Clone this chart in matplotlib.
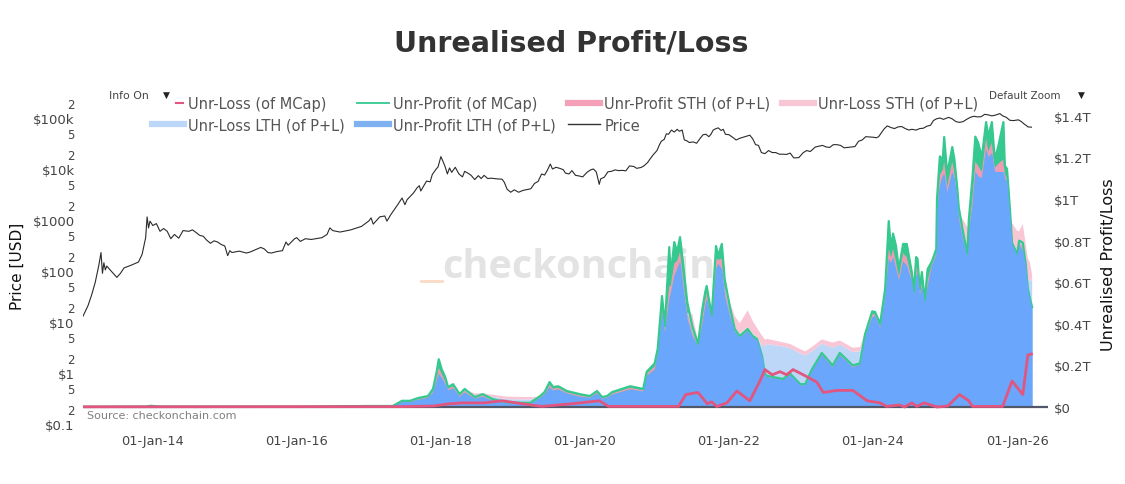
import matplotlib
matplotlib.use('Agg')
import matplotlib.pyplot as plt
import matplotlib.dates as mdates
from matplotlib.lines import Line2D
from matplotlib.ticker import FixedLocator, FixedFormatter
from datetime import datetime, timedelta

# values, times as decimal years
price_years = [2013.03, 2013.1, 2013.15, 2013.2, 2013.25, 2013.28, 2013.3, 2013.32, 2013.34, 2013.36, 2013.42, 2013.5, 2013.55, 2013.6, 2013.7, 2013.8, 2013.85, 2013.9, 2013.92,
               2013.94, 2013.96, 2014.0, 2014.05, 2014.1, 2014.15, 2014.2, 2014.25, 2014.3, 2014.36, 2014.42, 2014.5, 2014.55, 2014.6, 2014.65, 2014.7, 2014.75, 2014.8, 2014.85, 2014.9, 2014.95, 2015.0, 2015.04, 2015.07, 2015.1,
               2015.2, 2015.3, 2015.35, 2015.45, 2015.5, 2015.55, 2015.6, 2015.65, 2015.72, 2015.8, 2015.85, 2015.88, 2015.97, 2016.0, 2016.05, 2016.12, 2016.2, 2016.35, 2016.42, 2016.46, 2016.5, 2016.6,
               2016.75, 2016.9, 2017.0, 2017.03, 2017.06, 2017.15, 2017.22, 2017.25, 2017.3, 2017.4, 2017.46, 2017.5, 2017.53, 2017.62, 2017.67, 2017.7, 2017.72, 2017.8, 2017.85, 2017.88, 2017.93,
               2017.96, 2018.0, 2018.03, 2018.06, 2018.09, 2018.12, 2018.15, 2018.2, 2018.25, 2018.3, 2018.33, 2018.38, 2018.42, 2018.47, 2018.52, 2018.56, 2018.6, 2018.65, 2018.7, 2018.78, 2018.85,
               2018.88, 2018.92, 2018.97, 2019.02, 2019.08, 2019.14, 2019.2, 2019.25, 2019.3, 2019.35, 2019.4, 2019.44, 2019.48, 2019.52, 2019.55, 2019.6, 2019.65, 2019.7, 2019.73, 2019.78, 2019.82, 2019.87, 2019.92, 2019.97, 2020.03, 2020.08, 2020.12,
               2020.16, 2020.2, 2020.22, 2020.27, 2020.32, 2020.37, 2020.42, 2020.47, 2020.52, 2020.57, 2020.62, 2020.68, 2020.72, 2020.78, 2020.82, 2020.87, 2020.91, 2020.95, 2021.0, 2021.03, 2021.06, 2021.1, 2021.13, 2021.16, 2021.2, 2021.24, 2021.28, 2021.31, 2021.35, 2021.38,
               2021.41, 2021.45, 2021.5, 2021.55, 2021.6, 2021.64, 2021.68, 2021.72, 2021.75, 2021.78, 2021.82, 2021.85, 2021.89, 2021.92, 2021.95, 2022.0, 2022.05, 2022.1, 2022.15, 2022.2, 2022.25, 2022.29, 2022.33, 2022.37, 2022.41, 2022.45, 2022.5, 2022.55, 2022.6, 2022.65, 2022.7,
               2022.75, 2022.8, 2022.85, 2022.9, 2022.97, 2023.03, 2023.08, 2023.13, 2023.2, 2023.25, 2023.3, 2023.35, 2023.4, 2023.45, 2023.5, 2023.55, 2023.6, 2023.65, 2023.7, 2023.75, 2023.8, 2023.85, 2023.9, 2023.95, 2024.0, 2024.05, 2024.08, 2024.12,
               2024.16, 2024.2, 2024.25, 2024.3, 2024.35, 2024.4, 2024.45, 2024.5, 2024.54, 2024.6, 2024.65, 2024.7, 2024.75, 2024.8, 2024.84, 2024.88, 2024.93, 2024.98, 2025.05, 2025.1, 2025.15, 2025.2, 2025.25, 2025.3, 2025.35, 2025.4, 2025.45,
               2025.5, 2025.55, 2025.6, 2025.65, 2025.7, 2025.76, 2025.8, 2025.85, 2025.9, 2025.95, 2026.02, 2026.06, 2026.1, 2026.13, 2026.15, 2026.2]
price = [13, 21, 34, 60, 130, 230, 90, 145, 105, 125, 100, 75, 90, 115, 130, 150, 210, 450, 1150,
         700, 950, 780, 850, 600, 680, 600, 430, 520, 440, 620, 600, 640, 570, 500, 480, 400, 350, 390, 370, 330, 310, 200, 250, 230,
         245, 225, 235, 270, 290, 270, 230, 225, 240, 250, 370, 320, 430, 450, 380, 430, 415, 450, 520, 700, 620, 580,
         640, 750, 960, 1100, 830, 1150, 1200, 950, 1250, 2000, 2700, 2000, 2500, 3400, 4300, 4700, 3700, 5800, 5600, 7800, 9800,
         11000, 17500, 14000, 11000, 8000, 10500, 8600, 10800, 8000, 7000, 9000, 8200, 7500, 6200, 7400, 6500, 7500, 6500, 6600, 6400, 6300,
         5500, 4000, 3500, 3900, 3500, 3800, 3950, 4100, 5200, 5700, 8000, 7600, 9500, 12500, 10000, 10800, 10300, 9700, 8300, 8000, 9300, 7500, 7300, 7000, 8600, 9600, 10000,
         8700, 5000, 6400, 6900, 8800, 9000, 9600, 9300, 9400, 9200, 11500, 11200, 10300, 10700, 11500, 13300, 16000, 19000, 23000, 29000, 35000, 38000, 49000, 48000, 58000, 53000, 60000, 55000, 58000, 37000,
         36000, 33000, 34000, 32000, 40000, 47000, 48000, 43000, 48000, 58000, 62000, 64000, 57000, 60000, 48000, 47000, 42000, 37000, 40000, 42000, 44000, 46000, 39000, 30000, 29000, 21000, 20000, 23000, 21000, 21000, 19500,
         19500, 19300, 20500, 16500, 16700, 20800, 23000, 22000, 27000, 28000, 29000, 27000, 26500, 30000, 30000, 29000, 26000, 26500, 27000, 27500, 35000, 37000, 43000, 42500, 42000, 41000, 43000, 52000,
         62000, 70000, 65000, 62000, 67000, 68000, 62000, 58000, 60000, 58000, 62000, 63000, 69000, 72000, 89000, 96000, 100000, 94000, 103000, 96000, 85000, 82000, 85000, 94000, 103000, 108000, 105000,
         106000, 118000, 115000, 110000, 114000, 122000, 110000, 103000, 90000, 89000, 92000, 85000, 76000, 71000, 67000, 66000]

area_years = [2013.03, 2013.9, 2013.97, 2014.1, 2016.0, 2017.0, 2017.33, 2017.46, 2017.57, 2017.68, 2017.82, 2017.89, 2017.94, 2017.97, 2018.01, 2018.06, 2018.1, 2018.17, 2018.26,
              2018.33, 2018.47, 2018.58, 2018.72, 2018.92, 2019.24, 2019.38, 2019.44, 2019.51, 2019.56, 2019.63, 2019.75, 2019.93, 2020.07, 2020.17, 2020.24, 2020.31, 2020.38, 2020.63, 2020.81,
              2020.86, 2020.97, 2021.01, 2021.07, 2021.11, 2021.17, 2021.19, 2021.24, 2021.28, 2021.32, 2021.36, 2021.42, 2021.49, 2021.57, 2021.63, 2021.67, 2021.69, 2021.76, 2021.82, 2021.85, 2021.9, 2021.94,
              2022.01, 2022.08, 2022.15, 2022.26, 2022.33, 2022.39, 2022.46, 2022.5, 2022.53, 2022.75, 2022.85, 2022.99, 2023.06, 2023.15, 2023.29, 2023.44, 2023.54, 2023.72, 2023.82, 2023.89, 2023.99, 2024.03, 2024.1, 2024.17,
              2024.22, 2024.25, 2024.28, 2024.32, 2024.36, 2024.42, 2024.47, 2024.54, 2024.57, 2024.6, 2024.62, 2024.65, 2024.68, 2024.72, 2024.76, 2024.82, 2024.88, 2024.89, 2024.93, 2024.97, 2024.99, 2025.03, 2025.1, 2025.13, 2025.17, 2025.19,
              2025.25, 2025.31, 2025.33, 2025.38, 2025.42, 2025.46, 2025.51, 2025.57, 2025.6, 2025.65, 2025.69, 2025.74, 2025.81, 2025.83, 2025.86, 2025.9, 2025.93, 2026.0, 2026.03, 2026.08, 2026.12, 2026.15, 2026.18, 2026.21]
mcap_profit = [0.001, 0.002, 0.006, 0.002, 0.002, 0.005, 0.005, 0.03, 0.03, 0.043, 0.053, 0.087, 0.168, 0.23, 0.183, 0.144, 0.096, 0.11, 0.062,
               0.087, 0.048, 0.062, 0.038, 0.022, 0.02, 0.053, 0.072, 0.12, 0.096, 0.10, 0.077, 0.062, 0.053, 0.077, 0.048, 0.053, 0.072, 0.10, 0.087,
               0.17, 0.21, 0.28, 0.534, 0.39, 0.769, 0.63, 0.793, 0.745, 0.817, 0.697, 0.505, 0.389, 0.303, 0.471, 0.553, 0.582, 0.4375, 0.774, 0.726, 0.784, 0.615,
               0.486, 0.375, 0.341, 0.375, 0.341, 0.327, 0.245, 0.159, 0.15, 0.135, 0.16, 0.11, 0.11, 0.18, 0.26, 0.2, 0.26, 0.2, 0.21, 0.35, 0.46, 0.457, 0.40, 0.567,
               0.894, 0.76, 0.834, 0.776, 0.663, 0.784, 0.784, 0.649, 0.553, 0.721, 0.712, 0.567, 0.649, 0.51, 0.663, 0.70, 0.76, 1.0, 1.205, 1.19, 1.298, 1.12, 1.25, 1.19, 1.05, 0.96,
               0.84, 0.735, 0.90, 1.10, 1.30, 1.27, 1.2, 1.37, 1.30, 1.37, 1.19, 1.255, 1.37, 1.16, 1.145, 0.955, 0.79, 0.735, 0.80, 0.79, 0.69, 0.57, 0.52, 0.48]
lth_profit = [0.001, 0.002, 0.005, 0.002, 0.002, 0.004, 0.004, 0.024, 0.024, 0.035, 0.044, 0.07, 0.125, 0.16, 0.14, 0.11, 0.08, 0.09, 0.05,
              0.07, 0.04, 0.05, 0.03, 0.018, 0.016, 0.045, 0.06, 0.095, 0.08, 0.085, 0.065, 0.05, 0.045, 0.065, 0.04, 0.045, 0.06, 0.085, 0.075,
              0.15, 0.18, 0.25, 0.457, 0.351, 0.519, 0.543, 0.63, 0.663, 0.697, 0.582, 0.423, 0.341, 0.293, 0.399, 0.486, 0.519, 0.423, 0.663, 0.688, 0.663, 0.534,
              0.4375, 0.361, 0.335, 0.365, 0.335, 0.322, 0.24, 0.149, 0.145, 0.13, 0.155, 0.105, 0.105, 0.175, 0.25, 0.19, 0.25, 0.19, 0.205, 0.34, 0.43, 0.44, 0.38, 0.53,
              0.712, 0.69, 0.72, 0.66, 0.606, 0.70, 0.68, 0.60, 0.53, 0.63, 0.64, 0.534, 0.58, 0.50, 0.58, 0.68, 0.73, 0.95, 1.066, 1.11, 1.12, 1.03, 1.13, 1.10, 0.99, 0.90,
              0.80, 0.72, 0.84, 0.97, 1.13, 1.11, 1.1, 1.24, 1.2, 1.22, 1.13, 1.13, 1.13, 1.1, 1.08, 0.915, 0.78, 0.73, 0.78, 0.75, 0.68, 0.56, 0.51, 0.47]
sth_profit = [0.0, 0.0, 0.0, 0.0, 0.0, 0.001, 0.001, 0.003, 0.003, 0.004, 0.004, 0.008, 0.02, 0.03, 0.02, 0.015, 0.008, 0.01, 0.006,
              0.008, 0.004, 0.006, 0.004, 0.002, 0.002, 0.004, 0.006, 0.012, 0.008, 0.008, 0.006, 0.006, 0.004, 0.006, 0.004, 0.004, 0.006, 0.008, 0.006,
              0.01, 0.015, 0.015, 0.02, 0.02, 0.06, 0.04, 0.06, 0.04, 0.05, 0.05, 0.03, 0.02, 0.005, 0.03, 0.03, 0.03, 0.007, 0.05, 0.02, 0.05, 0.04,
              0.02, 0.006, 0.003, 0.005, 0.003, 0.003, 0.003, 0.005, 0.003, 0.003, 0.003, 0.003, 0.003, 0.003, 0.005, 0.005, 0.005, 0.005, 0.003, 0.005, 0.015, 0.008, 0.01, 0.02,
              0.05, 0.03, 0.04, 0.04, 0.02, 0.04, 0.04, 0.02, 0.01, 0.04, 0.03, 0.01, 0.02, 0.005, 0.03, 0.01, 0.01, 0.02, 0.05, 0.03, 0.06, 0.03, 0.05, 0.03, 0.02, 0.03,
              0.02, 0.01, 0.02, 0.04, 0.05, 0.05, 0.03, 0.05, 0.03, 0.05, 0.02, 0.04, 0.06, 0.02, 0.02, 0.02, 0.005, 0.003, 0.01, 0.02, 0.005, 0.005, 0.005, 0.005]
lth_loss = [0.0, 0.0, 0.0, 0.0, 0.0, 0.0, 0.0, 0.0, 0.0, 0.0, 0.0, 0.0, 0.0, 0.0, 0.0, 0.0, 0.0, 0.0, 0.004,
            0.001, 0.012, 0.004, 0.015, 0.018, 0.018, 0.0, 0.0, 0.0, 0.0, 0.0, 0.0, 0.0, 0.0, 0.0, 0.004, 0.004, 0.0, 0.0, 0.0,
            0.0, 0.0, 0.0, 0.0, 0.0, 0.0, 0.0, 0.0, 0.0, 0.0, 0.0, 0.0, 0.01, 0.0, 0.0, 0.0, 0.0, 0.0, 0.0, 0.0, 0.0, 0.0,
            0.0, 0.01, 0.015, 0.015, 0.015, 0.01, 0.05, 0.14, 0.155, 0.158, 0.125, 0.15, 0.14, 0.09, 0.05, 0.09, 0.045, 0.07, 0.06, 0.0, 0.0, 0.0, 0.0, 0.0,
            0.0, 0.0, 0.0, 0.0, 0.0, 0.0, 0.0, 0.0, 0.0, 0.0, 0.0, 0.0, 0.0, 0.0, 0.0, 0.0, 0.0, 0.0, 0.0, 0.0, 0.0, 0.0, 0.0, 0.0, 0.0, 0.0,
            0.0, 0.0, 0.0, 0.0, 0.0, 0.0, 0.0, 0.0, 0.0, 0.0, 0.0, 0.0, 0.0, 0.0, 0.0, 0.0, 0.0, 0.0, 0.0, 0.01, 0.02, 0.05, 0.09, 0.14]
sth_loss = [0.0, 0.0, 0.0, 0.0, 0.0, 0.0, 0.0, 0.0, 0.0, 0.0, 0.0, 0.0, 0.0, 0.0, 0.0, 0.0, 0.0, 0.0, 0.004,
            0.004, 0.01, 0.006, 0.01, 0.012, 0.012, 0.0, 0.0, 0.0, 0.0, 0.0, 0.0, 0.0, 0.0, 0.0, 0.004, 0.0, 0.0, 0.0, 0.0,
            0.0, 0.0, 0.0, 0.0, 0.0, 0.0, 0.0, 0.0, 0.0, 0.0, 0.0, 0.0, 0.076, 0.02, 0.0, 0.0, 0.0, 0.0, 0.0, 0.0, 0.0, 0.0,
            0.05, 0.06, 0.05, 0.08, 0.06, 0.045, 0.05, 0.03, 0.025, 0.02, 0.02, 0.02, 0.02, 0.02, 0.02, 0.025, 0.02, 0.02, 0.02, 0.015, 0.0, 0.0, 0.0, 0.0,
            0.0, 0.0, 0.0, 0.0, 0.0, 0.0, 0.0, 0.0, 0.0, 0.0, 0.0, 0.0, 0.0, 0.0, 0.0, 0.0, 0.0, 0.0, 0.0, 0.0, 0.0, 0.0, 0.0, 0.0, 0.0, 0.0,
            0.08, 0.135, 0.0, 0.0, 0.0, 0.0, 0.0, 0.0, 0.0, 0.0, 0.0, 0.0, 0.0, 0.0, 0.0, 0.0, 0.10, 0.115, 0.055, 0.10, 0.08, 0.10, 0.09, 0.02]

loss_years = [2013.03, 2017.5, 2017.9, 2018.1, 2018.3, 2018.6, 2018.85, 2019.15, 2019.4, 2019.8, 2020.2, 2020.33, 2021.3, 2021.4,
              2021.57, 2021.7, 2021.76, 2021.83, 2021.97, 2022.11, 2022.29, 2022.43, 2022.5, 2022.6, 2022.71, 2022.8, 2022.89, 2023.06, 2023.22,
              2023.31, 2023.5, 2023.72, 2023.92, 2024.1, 2024.19, 2024.37, 2024.44, 2024.54, 2024.61, 2024.71, 2024.89, 2025.04,
              2025.2, 2025.33, 2025.38, 2025.8, 2025.93, 2026.08, 2026.15, 2026.2]
mcap_loss = [0.001, 0.002, 0.005, 0.015, 0.02, 0.02, 0.03, 0.015, 0.003, 0.015, 0.03, 0.003, 0.003, 0.06,
             0.07, 0.015, 0.025, 0.002, 0.02, 0.077, 0.03, 0.125, 0.18, 0.155, 0.17, 0.155, 0.18, 0.15, 0.12,
             0.07, 0.08, 0.08, 0.03, 0.02, 0.003, 0.01, 0.0, 0.02, 0.003, 0.02, 0.0, 0.005,
             0.06, 0.03, 0.003, 0.003, 0.125, 0.06, 0.25, 0.255]

left_ticks = [0.1, 0.2, 0.5, 1, 2, 5, 10, 20, 50, 100, 200, 500, 1000, 2000, 5000, 10000, 20000, 50000, 100000, 200000]
left_labels = ['$0.1', '2', '5', '$1', '2', '5', '$10', '2', '5', '$100', '2', '5', '$1000', '2', '5', '$10k', '2', '5', '$100k', '2']
right_ticks = [0, 0.2, 0.4, 0.6, 0.8, 1.0, 1.2, 1.4]
right_labels = ['$0', '$0.2T', '$0.4T', '$0.6T', '$0.8T', '$1T', '$1.2T', '$1.4T']
x_ticks = [2014, 2016, 2018, 2020, 2022, 2024, 2026]


def to_date(y):
    return datetime(int(y), 1, 1) + timedelta(days=(y % 1) * 365.25)


area_dates = [to_date(y) for y in area_years]
txt = '#444444'
blue = '#6aa6fb'
green = '#35c990'

fig = plt.figure(figsize=(11.25, 4.85), dpi=100)
fig.text(571 / 1125, 1 - 43 / 485, 'Unrealised Profit/Loss', ha='center', va='center',
         fontsize=20.5, fontweight='bold', color='#333333')

ax = fig.add_axes([83 / 1125, 1 - 428 / 485, 965 / 1125, 343 / 485])
ax.patch.set_visible(False)
ax.set_zorder(2)
ax2 = ax.twinx()
ax2.patch.set_visible(False)

# right axis goes under the price line
ax2.set_zorder(1)
ax2.text(0.372, 0.469, 'checkonchain', transform=ax2.transAxes, fontsize=28.5, fontweight='bold',
         family='Open Sans', color='#e3e3e3', va='center', zorder=0)
ax2.fill_between(area_dates, lth_profit, mcap_profit, color=green, lw=0, zorder=2)
ax2.stackplot(area_dates, lth_profit, sth_profit, lth_loss, sth_loss,
              colors=[blue, '#ee9cb6', '#bdd7f8', '#f9c6d6'], linewidth=0, zorder=2.5)
ax2.plot(area_dates, mcap_profit, color=green, lw=1.6, zorder=3)
ax2.fill_between(area_dates, lth_profit, 0, color=blue, lw=0, zorder=3.5)
ax2.axhline(0, color='#50586a', lw=1.6, zorder=4)
ax2.plot([to_date(y) for y in loss_years], mcap_loss, color='#e2557f', lw=2, zorder=5)
ax2.plot([to_date(2017.72), to_date(2018.02)], [0.606, 0.606], color='#fbd9c6', lw=2, zorder=2)

ax.plot([to_date(y) for y in price_years], price, color='#2b2b2b', lw=0.8)
ax.set_yscale('log')
ax.set_ylim(0.0873, 464000)
ax2.set_ylim(-0.096, 1.553)
ax.set_xlim(to_date(2013.03), to_date(2026.43))

ax.yaxis.set_major_locator(FixedLocator(left_ticks))
ax.yaxis.set_major_formatter(FixedFormatter(left_labels))
ax.yaxis.set_minor_locator(FixedLocator([]))
ax.tick_params(axis='y', length=0, pad=6, labelsize=8.5, labelcolor=txt)
for t, s in zip(ax.get_yticklabels(), left_labels):
    if s.startswith('$'):
        t.set_fontsize(9.5)
ax2.set_yticks(right_ticks, right_labels)
ax2.tick_params(axis='y', length=0, pad=4, labelsize=9.5, labelcolor=txt)
ax.set_xticks([to_date(y) for y in x_ticks])
ax.xaxis.set_major_formatter(mdates.DateFormatter('%d-%b-%y'))
ax.tick_params(axis='x', length=0, pad=5, labelsize=9.3, labelcolor=txt)
for a in (ax, ax2):
    for sp in a.spines.values():
        sp.set_visible(False)

fig.text(17 / 1125, 1 - 266 / 485, 'Price [USD]', rotation=90, ha='center', va='center', fontsize=11, color='#111111')
fig.text(1108 / 1125, 1 - 265 / 485, 'Unrealised Profit/Loss', rotation=90, ha='center', va='center', fontsize=11.5, color='#111111')
fig.text(87 / 1125, 1 - 416 / 485, 'Source: checkonchain.com', ha='left', va='center', fontsize=8, color='#808080')

# range and zoom buttons of the original page
fig.text(109 / 1125, 1 - 96 / 485, 'Info On', ha='left', va='center', fontsize=7.8, color=txt)
fig.text(166 / 1125, 1 - 95 / 485, '▼', ha='center', va='center', fontsize=6.5, color='#222222')
fig.text(989 / 1125, 1 - 96 / 485, 'Default Zoom', ha='left', va='center', fontsize=7.5, color=txt)
fig.text(1081 / 1125, 1 - 95 / 485, '▼', ha='center', va='center', fontsize=6.5, color='#222222')

handles = [Line2D([], [], color='#e2557f', lw=1.5, dashes=(0, 11, 7, 1)),
           Line2D([], [], color='#bdd7f8', lw=4.5),
           Line2D([], [], color=green, lw=1.3),
           Line2D([], [], color='#7fb0f0', lw=4.5),
           Line2D([], [], color='#f4a0b9', lw=4.5),
           Line2D([], [], color='#333333', lw=1),
           Line2D([], [], color='#f9c6d6', lw=4.5)]
labels = ['Unr-Loss (of MCap)', 'Unr-Loss LTH (of P+L)', 'Unr-Profit (of MCap)', 'Unr-Profit LTH (of P+L)',
          'Unr-Profit STH (of P+L)', 'Price', 'Unr-Loss STH (of P+L)']
leg = fig.legend(handles, labels, ncol=4, loc='upper left', bbox_to_anchor=(152 / 1125, 1 - 97 / 485),
                 frameon=False, fontsize=10.5, handlelength=2.2, handletextpad=0.3, columnspacing=0.8,
                 labelspacing=0.45, labelcolor='#555555', borderaxespad=0, borderpad=0)

fig.savefig('out.png', dpi=100)
